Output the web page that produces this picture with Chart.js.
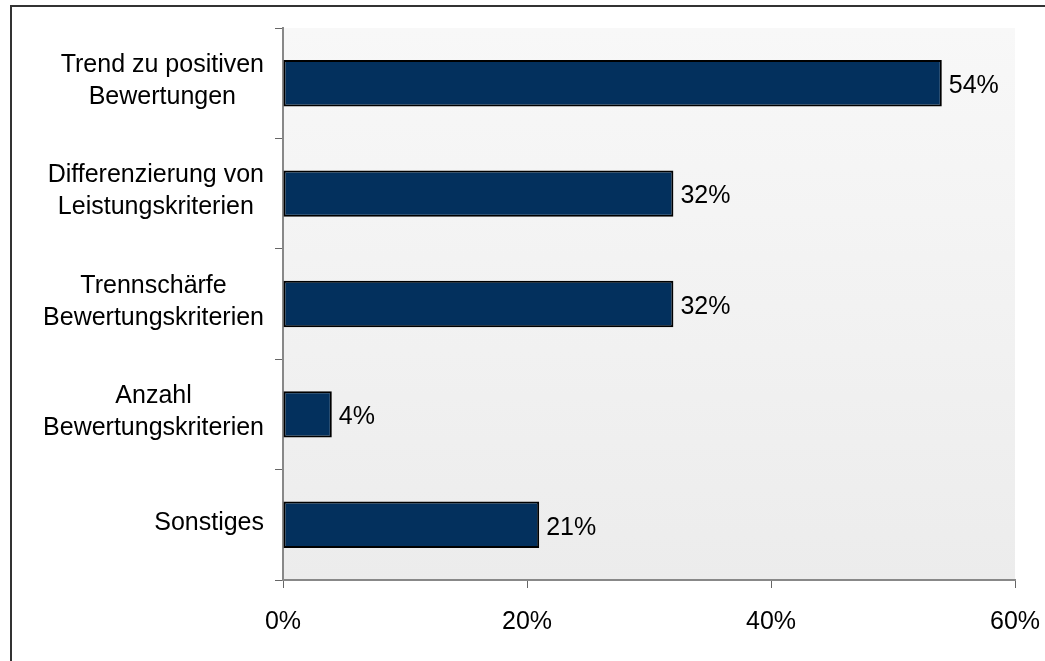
<!DOCTYPE html>
<html>
<head>
<meta charset="utf-8">
<title>Bewertungen</title>
<script src="https://cdn.jsdelivr.net/npm/chart.js@4/dist/chart.umd.min.js"></script>
<style>
    body { margin: 0; background: #fff; }
    canvas { display: block; }
</style>
</head>
<body>
<canvas id="bar-chart" width="1045" height="661"></canvas>
<script>
    "use strict";

    // Kategorien (eine Zeile pro Eintrag) und Werte in Prozent
    var kategorien = [
        ["Trend zu positiven", "Bewertungen"],
        ["Differenzierung von", "Leistungskriterien"],
        ["Trennschärfe", "Bewertungskriterien"],
        ["Anzahl", "Bewertungskriterien"],
        ["Sonstiges"]
    ];
    var werte = [54, 32, 32, 4, 21];
    var achseX = [0, 20, 40, 60];

    var schrift = "'Liberation Sans', Arial, sans-serif";

    // Rahmen und Hintergrundverlauf der Zeichenfläche
    var hintergrund = {
        id: "hintergrund",
        beforeDraw: function (chart) {
            var ctx = chart.ctx;
            var a = chart.chartArea;
            ctx.save();
            ctx.fillStyle = "#333";
            ctx.fillRect(10, 5, chart.width, 2);
            ctx.fillRect(10, 5, 2, chart.height);
            var grad = ctx.createLinearGradient(0, a.top, 0, a.bottom);
            grad.addColorStop(0, "#f8f8f8");
            grad.addColorStop(1, "#ececec");
            ctx.fillStyle = grad;
            ctx.fillRect(a.left, a.top, a.right - a.left, a.bottom - a.top);
            ctx.restore();
        }
    };

    // Kategorienamen: Block rechtsbündig, Zeilen darin zentriert
    var beschriftung = {
        id: "beschriftung",
        afterDraw: function (chart) {
            var ctx = chart.ctx;
            var y = chart.scales.y;
            ctx.save();
            ctx.font = "25px " + schrift;
            ctx.fillStyle = "#000";
            ctx.textAlign = "center";
            ctx.textBaseline = "middle";
            kategorien.forEach(function (zeilen, i) {
                var breite = 0;
                zeilen.forEach(function (z) {
                    breite = Math.max(breite, ctx.measureText(z).width);
                });
                var cx = 264 - breite / 2;
                var cy = y.getPixelForValue(i) - 2;
                zeilen.forEach(function (z, j) {
                    ctx.fillText(z, cx, cy + (j - (zeilen.length - 1) / 2) * 32);
                });
            });

            // Werte rechts neben den Balken
            ctx.textAlign = "left";
            var meta = chart.getDatasetMeta(0);
            meta.data.forEach(function (bar, i) {
                ctx.fillText(werte[i] + "%", bar.x + 7, bar.y + 3);
            });
            ctx.restore();
        }
    };

    var ctx = document.getElementById("bar-chart").getContext("2d");
    var myChart = new Chart(ctx, {
        type: "bar",
        data: {
            labels: kategorien.map(function (z) { return z.join(" "); }),
            datasets: [{
                data: werte,
                backgroundColor: "#03305d",
                borderColor: "#000",
                borderWidth: 2,
                borderSkipped: false,
                barPercentage: 0.42,
                categoryPercentage: 1
            }]
        },
        options: {
            indexAxis: "y",
            responsive: false,
            animation: false,
            layout: { padding: { top: 28, right: 30, left: 0, bottom: 0 } },
            plugins: {
                legend: { display: false },
                tooltip: { enabled: false }
            },
            scales: {
                x: {
                    min: achseX[0],
                    max: achseX[achseX.length - 1],
                    afterBuildTicks: function (scale) {
                        scale.ticks = achseX.map(function (v) { return { value: v }; });
                    },
                    afterFit: function (scale) {
                        scale.height = 81;
                        scale.paddingLeft = 0;
                        scale.paddingRight = 0;
                    },
                    border: { color: "#888", width: 2 },
                    grid: {
                        drawOnChartArea: false,
                        tickLength: 8,
                        color: "#666",
                        lineWidth: 1
                    },
                    ticks: {
                        padding: 19,
                        color: "#000",
                        font: { family: schrift, size: 25 },
                        maxRotation: 0,
                        callback: function (v) { return v + "%"; }
                    }
                },
                y: {
                    offset: true,
                    afterFit: function (scale) { scale.width = 283; },
                    border: { color: "#888", width: 2 },
                    grid: {
                        offset: true,
                        drawOnChartArea: false,
                        tickLength: 8,
                        color: "#666",
                        lineWidth: 1
                    },
                    ticks: { color: "rgba(0,0,0,0)" }
                }
            }
        },
        plugins: [hintergrund, beschriftung]
    });
</script>
</body>
</html>
